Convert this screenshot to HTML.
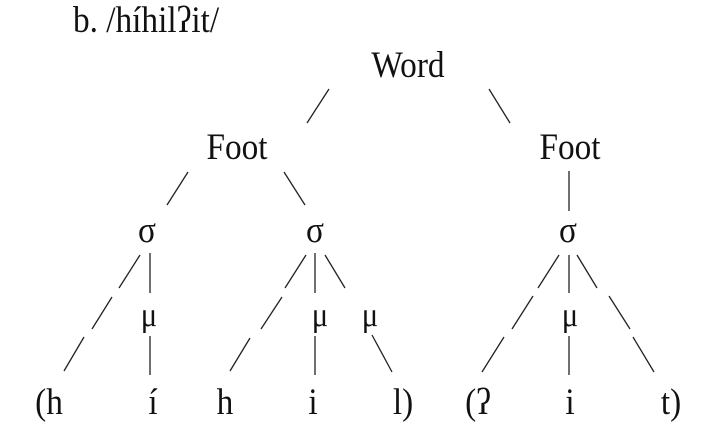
<!DOCTYPE html>
<html><head><meta charset="utf-8"><style>
html,body{margin:0;padding:0;background:#fff;width:724px;height:448px;overflow:hidden}
svg{display:block}
text{font-family:"Liberation Serif","DejaVu Serif",serif;fill:#111}
</style></head><body>
<svg width="724" height="448" viewBox="0 0 724 448" xmlns="http://www.w3.org/2000/svg">
<g font-size="37">
<text transform="translate(73,32) scale(0.9,1)">b. /híhilʔit/</text>
<text transform="translate(408,77) scale(0.9,1)" text-anchor="middle">Word</text>
<text transform="translate(237,159) scale(0.9,1)" text-anchor="middle">Foot</text>
<text transform="translate(570,159) scale(0.9,1)" text-anchor="middle">Foot</text>
<text transform="translate(147,242) scale(0.9,1)" text-anchor="middle">σ</text>
<text transform="translate(315,242) scale(0.9,1)" text-anchor="middle">σ</text>
<text transform="translate(568,242) scale(0.9,1)" text-anchor="middle">σ</text>
<text transform="translate(49,414) scale(0.9,1)" text-anchor="middle">(h</text>
<text transform="translate(153,414) scale(0.9,1)" text-anchor="middle">í</text>
<text transform="translate(225,414) scale(0.9,1)" text-anchor="middle">h</text>
<text transform="translate(313,414) scale(0.9,1)" text-anchor="middle">i</text>
<text transform="translate(403,414) scale(0.9,1)" text-anchor="middle">l)</text>
<text transform="translate(478,414) scale(0.9,1)" text-anchor="middle">(ʔ</text>
<text transform="translate(570,414) scale(0.9,1)" text-anchor="middle">i</text>
<text transform="translate(671,414) scale(0.9,1)" text-anchor="middle">t)</text>
</g>
<g font-size="34">
<text transform="translate(149,326) scale(0.9,1)" text-anchor="middle">μ</text>
<text transform="translate(320,326) scale(0.9,1)" text-anchor="middle">μ</text>
<text transform="translate(370,326) scale(0.9,1)" text-anchor="middle">μ</text>
<text transform="translate(570,326) scale(0.9,1)" text-anchor="middle">μ</text>
</g>
<g stroke="#222" stroke-width="1.3" fill="none">
<line x1="329" y1="89" x2="307" y2="123"/>
<line x1="489" y1="89" x2="510" y2="123"/>
<line x1="188" y1="172" x2="167" y2="205"/>
<line x1="284" y1="172" x2="305" y2="205"/>
<line x1="569" y1="171" x2="569" y2="211"/>
<line x1="140" y1="255" x2="119" y2="288"/>
<line x1="112" y1="297" x2="92" y2="329"/>
<line x1="84" y1="337" x2="64" y2="371"/>
<line x1="150" y1="253" x2="150" y2="293"/>
<line x1="150" y1="336" x2="150" y2="375"/>
<line x1="306" y1="255" x2="285" y2="288"/>
<line x1="282" y1="297" x2="261" y2="329"/>
<line x1="250" y1="338" x2="230" y2="371"/>
<line x1="315" y1="253" x2="315" y2="293"/>
<line x1="315" y1="336" x2="315" y2="375"/>
<line x1="325" y1="255" x2="345" y2="288"/>
<line x1="372" y1="335" x2="392" y2="372"/>
<line x1="559" y1="255" x2="538" y2="288"/>
<line x1="533" y1="296" x2="512" y2="329"/>
<line x1="504" y1="337" x2="482" y2="372"/>
<line x1="569" y1="255" x2="569" y2="293"/>
<line x1="569" y1="336" x2="569" y2="375"/>
<line x1="577" y1="255" x2="597" y2="288"/>
<line x1="609" y1="296" x2="630" y2="329"/>
<line x1="633" y1="337" x2="654" y2="372"/>
</g>
</svg>
</body></html>
